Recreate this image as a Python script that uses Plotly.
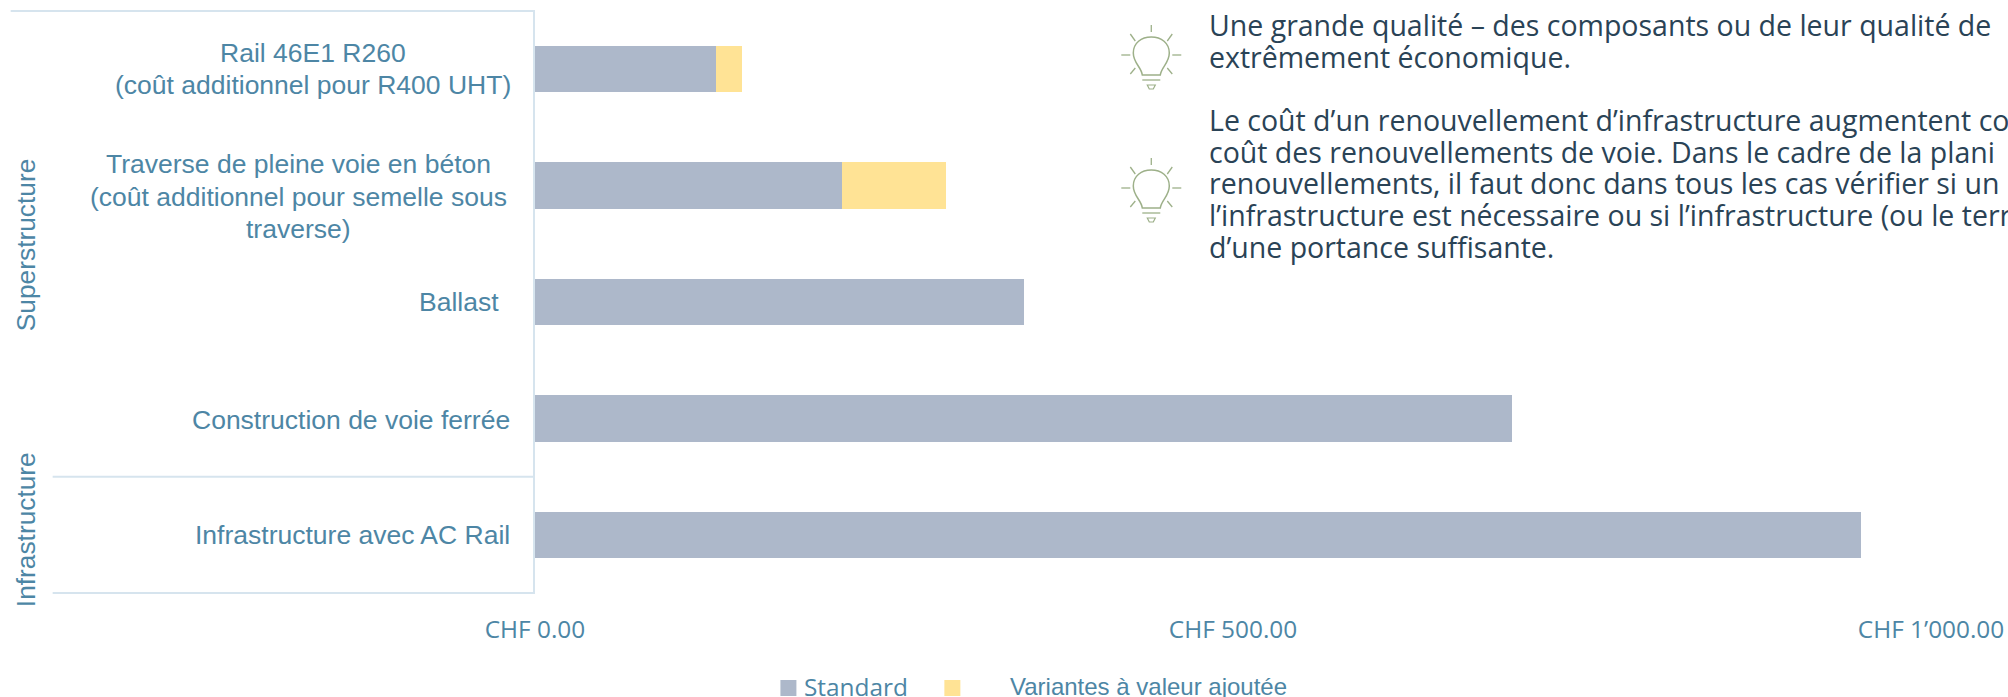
import plotly.graph_objects as go

categories = ["Rail 46E1 R260<br>(coût additionnel pour R400 UHT)",
              "Traverse de pleine voie en béton<br>(coût additionnel pour semelle sous<br>traverse)",
              "Ballast",
              "Construction de voie ferrée",
              "Infrastructure avec AC Rail"]
standard = [129.6, 219.6, 350, 700, 950]
variantes = [18.5, 75, 0, 0, 0]
xticks = [0, 500, 1000]
xticklabels = ["CHF 0.00", "CHF 500.00", "CHF 1’000.00"]
note_lines = ["Une grande qualité – des composants ou de leur qualité de",
              "extrêmement économique.",
              "",
              "Le coût d’un renouvellement d’infrastructure augmentent co",
              "coût des renouvellements de voie. Dans le cadre de la plani",
              "renouvellements, il faut donc dans tous les cas vérifier si un",
              "l’infrastructure est nécessaire ou si l’infrastructure (ou le terr",
              "d’une portance suffisante."]

W, H = 2008, 697
L, R, T, B = 534.5, 0, 11, 104
PW, PH = W - L - R, H - T - B
def px(x): return (x - L) / PW
def py(y): return 1 - (y - T) / PH

BLUE, YELLOW = "#ADB8CA", "#FFE395"
TXT, DARK, LINE, GREEN = "#4D86A5", "#2A4356", "#D6E4EE", "#9DB089"
ARIAL, SEGOE = "Liberation Sans", "Open Sans"

fig = go.Figure()
fig.add_bar(y=categories, x=standard, orientation="h", marker=dict(color=BLUE, line_width=0), name="Standard", showlegend=False)
fig.add_bar(y=categories, x=variantes, orientation="h", marker=dict(color=YELLOW, line_width=0), name="Variantes à valeur ajoutée", showlegend=False)

ann = []
def text(x, y, t, size, font=ARIAL, color=TXT, anchor="center", yref="paper", angle=0, yshift=0):
    ann.append(dict(x=px(x), y=(y if yref != "paper" else py(y)), xref="paper", yref=yref, text=t, showarrow=False,
                    xanchor=anchor, yanchor="middle", align="center", textangle=angle, yshift=yshift,
                    font=dict(family=font, size=size, color=color)))

# category labels, one annotation per line, positioned on the category axis
CAT_SIZE = 26.5
LINE_GAP = 32.5
label_x = [312, 297.5, 500.6, 511, 511]
label_anchor = ["center", "center", "right", "right", "right"]
label_shift = [0, -11, 0, -2, 0]
for cat, x, anc, sh in zip(categories, label_x, label_anchor, label_shift):
    parts = cat.split("<br>")
    for i, part in enumerate(parts):
        off = (i - (len(parts) - 1) / 2) * LINE_GAP
        text(x, cat, part, CAT_SIZE, anchor=anc, yref="y", yshift=sh - off)

text(25.5, 245, "Superstructure", 26.3, angle=-90)
text(25.5, 530, "Infrastructure", 26.3, angle=-90)

# legend
text(802, 686, "Standard", 24.4, font=SEGOE, anchor="left")
text(1008, 686, "Variantes à valeur ajoutée", 24, anchor="left")

# notes
for ln, yy in zip(note_lines, [25, 57, 0, 120, 152, 183, 215, 247]):
    if ln:
        text(1207, yy, ln, 28.5, font=SEGOE, color=DARK, anchor="left")

shapes = []
def hline(x0, x1, y):
    shapes.append(dict(type="line", xref="paper", yref="paper", x0=px(x0), x1=px(x1), y0=py(y), y1=py(y), line=dict(color=LINE, width=2)))
hline(10, L, 11)
hline(52, L, 476.7)
hline(52, L, 593)
for x0, color in [(780, BLUE), (944, YELLOW)]:
    shapes.append(dict(type="rect", xref="paper", yref="paper", x0=px(x0), x1=px(x0 + 16), y0=py(680), y1=py(696), fillcolor=color, line_width=0))

def bulb(cx, top):
    def P(dx, dy): return f"{px(cx + dx):.5f},{py(top + dy):.5f}"
    for (a, b, c, d) in [(0, 0, 0, 7), (-21, 9, -16, 16), (21, 9, 16, 16), (-30, 30, -21, 30), (30, 30, 21, 30),
                         (-21, 49, -16, 43), (21, 49, 16, 43)]:
        shapes.append(dict(type="path", xref="paper", yref="paper", path=f"M{P(a,b)} L{P(c,d)}", line=dict(color=GREEN, width=1.3)))
    bodyp = (f"M{P(-9,50)} C{P(-10,42)} {P(-18,38)} {P(-18,28)} C{P(-18,18)} {P(-10,12)} {P(0,12)} "
             f"C{P(10,12)} {P(18,18)} {P(18,28)} C{P(18,38)} {P(10,42)} {P(9,50)} Z")
    shapes.append(dict(type="path", xref="paper", yref="paper", path=bodyp, line=dict(color=GREEN, width=1.5)))
    shapes.append(dict(type="path", xref="paper", yref="paper", path=f"M{P(-9,55)} L{P(9,55)}", line=dict(color=GREEN, width=1.3)))
    shapes.append(dict(type="path", xref="paper", yref="paper", path=f"M{P(-4,60)} L{P(4,60)} L{P(2,64)} L{P(-2,64)} Z", line=dict(color=GREEN, width=1.2)))
bulb(1151, 25)
bulb(1151, 158)

fig.update_layout(
    width=W, height=H, autosize=False, barmode="stack", bargap=0.6,
    margin=dict(l=L, r=R, t=T, b=B), plot_bgcolor="white", paper_bgcolor="white",
    showlegend=False, annotations=ann, shapes=shapes,
    xaxis=dict(range=[0, PW / 1.3965], tickvals=xticks, ticktext=xticklabels, showgrid=False, zeroline=False,
               showline=False, ticks="", ticklabelstandoff=20, tickfont=dict(family=SEGOE, size=24.4, color=TXT)),
    yaxis=dict(categoryorder="array", categoryarray=categories, autorange="reversed", showticklabels=False, ticks="",
               showgrid=False, zeroline=False, showline=True, linecolor=LINE, linewidth=2),
)
fig.write_html("out.html", config=dict(displayModeBar=False),
               post_script="document.body.style.margin='0';document.body.style.overflow='hidden';")
